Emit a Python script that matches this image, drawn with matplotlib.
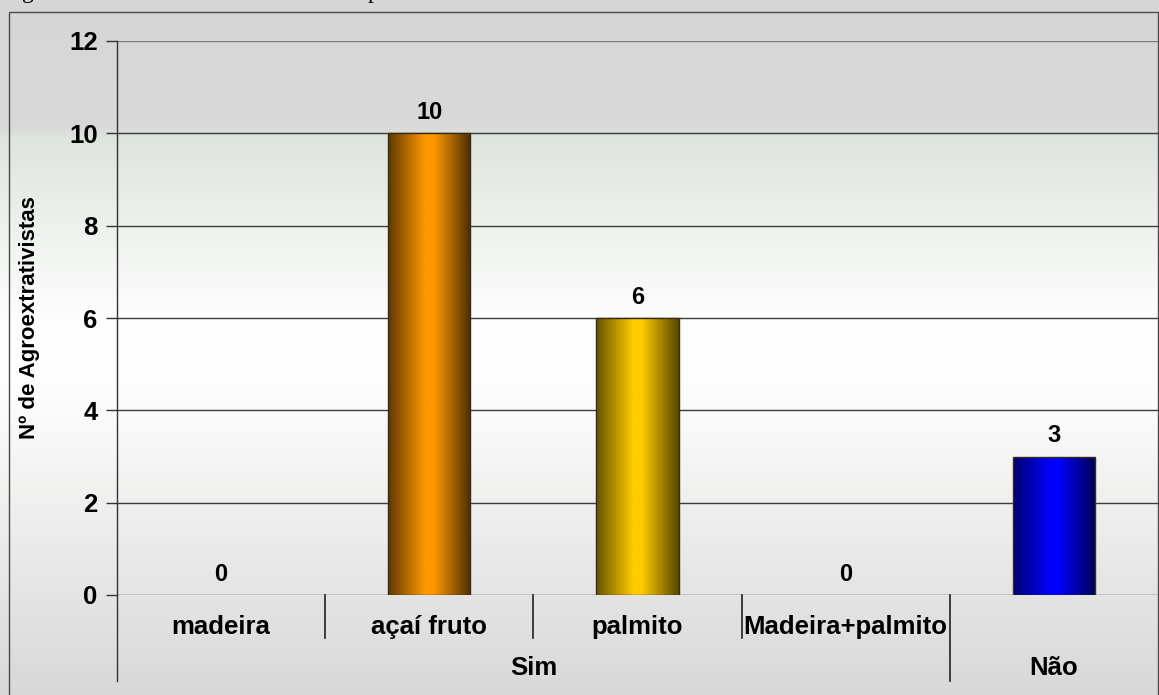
import numpy as np
import matplotlib
matplotlib.use("Agg")
import matplotlib.pyplot as plt
from matplotlib.colors import LinearSegmentedColormap, to_rgb
from matplotlib.transforms import blended_transform_factory
from matplotlib.patches import Rectangle

# ---- data ----
sub_labels = ["madeira", "açaí fruto", "palmito", "Madeira+palmito", ""]
group_labels = ["Sim", "Não"]
group_sizes = [4, 1]
values = [0, 10, 6, 0, 3]
bar_dark_left = ["#5e3800", "#5e3800", "#665300", "#665300", "#00006e"]
bar_bright = ["#ff9900", "#ff9900", "#ffcc00", "#ffcc00", "#0000ff"]
bar_dark_right = ["#4c2d00", "#4c2d00", "#564600", "#564600", "#000050"]
y_ticks = [0, 2, 4, 6, 8, 10, 12]
y_label = "Nº de Agroextrativistas"

W, H = 1159, 695
FONT = "Liberation Sans"

fig = plt.figure(figsize=(W / 100, H / 100), dpi=100)
fig.patch.set_facecolor("#d8d8d8")

# background: vertical grey -> white -> grey gradient over the chart area
bg = fig.add_axes([0, 0, 1, 1], zorder=-5)
bg.set_axis_off()
stops_px = [0, 125, 138, 230, 320, 390, 480, 595, 695]
stops_col = ["#d6d6d6", "#d9d9d9", "#dee4de", "#eef2ee", "#fdfdfd",
             "#fdfdfd", "#f2f3f1", "#e4e4e4", "#d8d8d8"]
ys = np.arange(H)
grad = np.zeros((H, 1, 3))
cols = np.array([to_rgb(c) for c in stops_col])
for k in range(3):
    grad[:, 0, k] = np.interp(ys, stops_px, cols[:, k])
bg.imshow(grad, aspect="auto", extent=(0, W, H, 0), interpolation="bilinear")
bg.set_xlim(0, W)
bg.set_ylim(H, 0)
# outer chart border
bg.add_patch(Rectangle((9, 12), 1149, 700, fill=False, edgecolor="#4a4a4a",
                       lw=1.0, clip_on=False))
# bottom of the caption line above the chart
bg.text(22, -2, "g", fontsize=17, family="Liberation Serif", va="baseline",
        ha="left", color="black", clip_on=False)
bg.text(368, -2, "p", fontsize=17, family="Liberation Serif", va="baseline",
        ha="left", color="black", clip_on=False)

# main axes in pixel geometry
x0, x1, ytop, ybot = 117, 1158, 41, 595
ax = fig.add_axes([x0 / W, 1 - ybot / H, (x1 - x0) / W, (ybot - ytop) / H])
ax.set_facecolor("none")
n = len(values)
xs = np.arange(n)
ax.set_xlim(-0.5, n - 0.5)
ax.set_ylim(0, 12)

for s in ["top", "right", "bottom"]:
    ax.spines[s].set_visible(False)
ax.spines["left"].set_color("#333333")
ax.spines["left"].set_linewidth(1.0)

ax.set_yticks(y_ticks)
ax.set_yticklabels([str(t) for t in y_ticks], fontsize=18.5,
                   fontweight="bold", family=FONT)
ax.tick_params(axis="y", length=8, width=1, color="#333333", pad=6)
ax.set_xticks([])

for t in y_ticks:
    ax.axhline(t, color="#3c3c3c" if t < 12 else "#7a7a7a", lw=1.0, zorder=1)

ax.set_ylabel(y_label, fontsize=16, fontweight="bold", family=FONT)
ax.yaxis.set_label_coords(-0.074, 0.5)

# gradient-shaded bars
width = 0.395
for i, (x, v) in enumerate(zip(xs, values)):
    if v > 0:
        cmap = LinearSegmentedColormap.from_list(
            f"bar{i}", [(0.0, bar_dark_left[i]), (0.45, bar_bright[i]),
                        (0.55, bar_bright[i]), (1.0, bar_dark_right[i])])
        rect = Rectangle((x - width / 2, 0), width, v, facecolor="none",
                         edgecolor="#3a2a1a", lw=1.0, zorder=4)
        ax.add_patch(rect)
        img = ax.imshow(np.linspace(0, 1, 256)[None, :], cmap=cmap,
                        aspect="auto", extent=(x - width / 2, x + width / 2, 0, v),
                        zorder=3, interpolation="bilinear")
        img.set_clip_path(rect)
    ax.annotate(str(v), (x, v), xytext=(0, 15), textcoords="offset points",
                ha="center", va="center", fontsize=17, fontweight="bold",
                family=FONT, color="black", zorder=5)
ax.set_xlim(-0.5, n - 0.5)
ax.set_ylim(0, 12)

# two-level category axis
axh = ybot - ytop
tr = blended_transform_factory(ax.transData, ax.transAxes)
short_drop = 43 / axh
long_drop = 86 / axh
edges = np.arange(n + 1) - 0.5
group_edges = np.concatenate([[0], np.cumsum(group_sizes)])
for e in edges[1:-1]:
    is_group = (e + 0.5) in group_edges
    drop = long_drop if is_group else short_drop
    ax.plot([e, e], [0, -drop], color="#222222", lw=1.2, transform=tr,
            clip_on=False)
ax.plot([-0.5, -0.5], [0, -long_drop], color="#333333", lw=1.0, transform=tr,
        clip_on=False)

for x, lab in zip(xs, sub_labels):
    ax.text(x, -32 / axh, lab, transform=tr, ha="center", va="center",
            fontsize=18.5, fontweight="bold", family=FONT)
for g, lab in enumerate(group_labels):
    c = (group_edges[g] + group_edges[g + 1]) / 2 - 0.5
    ax.text(c, -73 / axh, lab, transform=tr, ha="center", va="center",
            fontsize=18.5, fontweight="bold", family=FONT)

fig.savefig("out.png", dpi=100)
